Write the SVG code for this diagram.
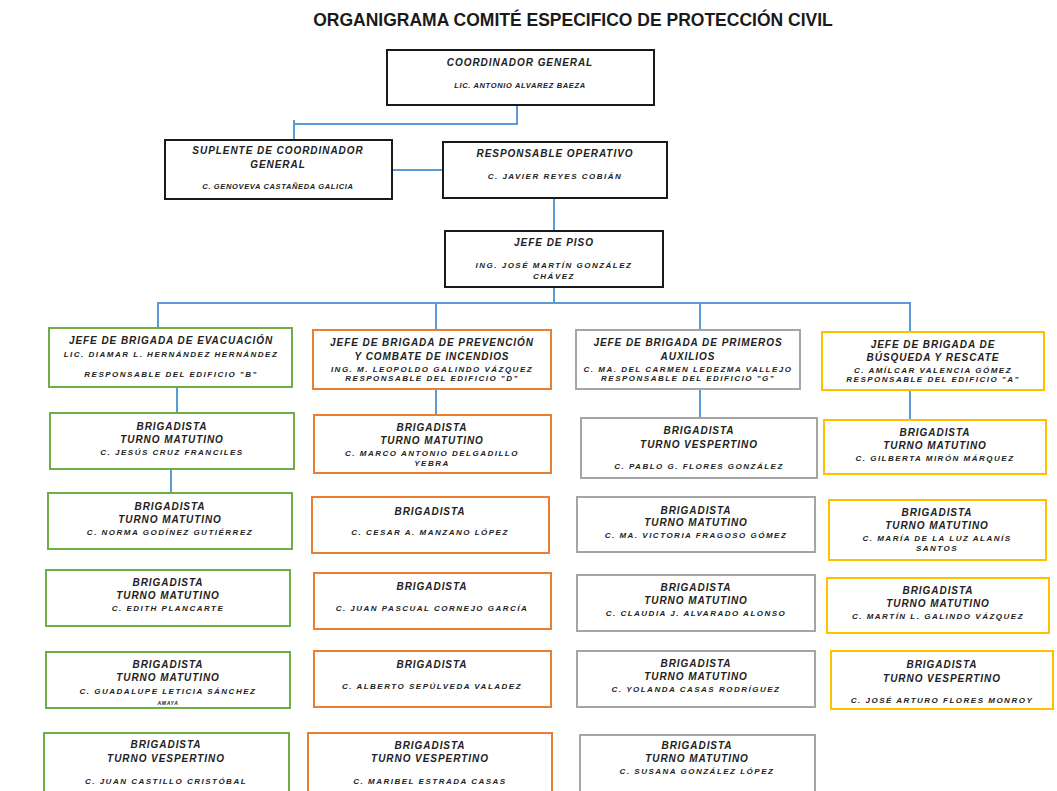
<svg xmlns="http://www.w3.org/2000/svg" width="1057" height="791" viewBox="0 0 1057 791">
<style>
.bg{fill:#ffffff}
.box{fill:#ffffff;stroke-width:2}
.k{stroke:#1a1a1a}
.g{stroke:#70AD47}
.o{stroke:#ED7D31}
.s{stroke:#A5A5A5}
.y{stroke:#FFC000}
text{font-family:"Liberation Sans",Arial,sans-serif;fill:#222;text-anchor:middle;font-weight:bold;font-style:italic}
.ttl{font-size:17.5px;font-style:normal;fill:#1a1a1a}
.t{font-size:10px;letter-spacing:0.95px}
.n{font-size:8px;letter-spacing:1.5px}
.ns{font-size:7.5px;letter-spacing:0.65px}
.conn line,.conn polyline{stroke:#5B9BD5;stroke-width:2;fill:none}
</style>
<rect class="bg" x="0" y="0" width="1057" height="791"/>
<text class="ttl" x="573" y="26">ORGANIGRAMA COMITÉ ESPECIFICO DE PROTECCIÓN CIVIL</text>

<g class="conn">
<polyline points="517,105 517,124 294,124"/>
<line x1="294" y1="120" x2="294" y2="140"/>
<line x1="392" y1="170" x2="443" y2="170"/>
<line x1="554" y1="198" x2="554" y2="231"/>
<line x1="554" y1="287" x2="554" y2="303"/>
<line x1="157" y1="303" x2="911" y2="303"/>
<line x1="158" y1="303" x2="158" y2="328"/>
<line x1="436" y1="303" x2="436" y2="330"/>
<line x1="700" y1="303" x2="700" y2="330"/>
<line x1="910" y1="303" x2="910" y2="332"/>
<line x1="177" y1="387" x2="177" y2="413"/>
<line x1="171" y1="469" x2="171" y2="493"/>
<line x1="436" y1="389" x2="436" y2="415"/>
<line x1="700" y1="389" x2="700" y2="418"/>
<line x1="910" y1="390" x2="910" y2="420"/>
</g>

<g id="coordinador">
<rect class="box k" x="387" y="50" width="267" height="55"/>
<text class="t" x="520" y="66">COORDINADOR GENERAL</text>
<text class="ns" x="520" y="88">LIC. ANTONIO ALVAREZ BAEZA</text>
</g>
<g id="suplente">
<rect class="box k" x="165" y="140" width="227" height="59"/>
<text class="t" x="278" y="154">SUPLENTE DE COORDINADOR</text>
<text class="t" x="278" y="168">GENERAL</text>
<text class="ns" x="278" y="189">C. GENOVEVA CASTAÑEDA GALICIA</text>
</g>
<g id="responsable">
<rect class="box k" x="443" y="142" width="224" height="56"/>
<text class="t" x="555" y="157">RESPONSABLE OPERATIVO</text>
<text class="n" x="555" y="179">C. JAVIER REYES COBIÁN</text>
</g>
<g id="jefepiso">
<rect class="box k" x="445" y="231" width="218" height="56"/>
<text class="t" x="554" y="246">JEFE DE PISO</text>
<text class="n" x="554" y="268">ING. JOSÉ MARTÍN GONZÁLEZ</text>
<text class="n" x="554" y="279">CHÁVEZ</text>
</g>

<g id="jefe-evacuacion">
<rect class="box g" x="49" y="328" width="243" height="59"/>
<text class="t" x="171" y="344">JEFE DE BRIGADA DE EVACUACIÓN</text>
<text class="n" x="171" y="357">LIC. DIAMAR L. HERNÁNDEZ HERNÁNDEZ</text>
<text class="n" x="171" y="377">RESPONSABLE DEL EDIFICIO "B"</text>
</g>
<g id="g1">
<rect class="box g" x="50" y="413" width="244" height="56"/>
<text class="t" x="172" y="430">BRIGADISTA</text>
<text class="t" x="172" y="443">TURNO MATUTINO</text>
<text class="n" x="172" y="455">C. JESÚS CRUZ FRANCILES</text>
</g>
<g id="g2">
<rect class="box g" x="48" y="493" width="244" height="56"/>
<text class="t" x="170" y="510">BRIGADISTA</text>
<text class="t" x="170" y="523">TURNO MATUTINO</text>
<text class="n" x="170" y="535">C. NORMA GODÍNEZ GUTIÉRREZ</text>
</g>
<g id="g3">
<rect class="box g" x="46" y="570" width="244" height="56"/>
<text class="t" x="168" y="586">BRIGADISTA</text>
<text class="t" x="168" y="599">TURNO MATUTINO</text>
<text class="n" x="168" y="611">C. EDITH PLANCARTE</text>
</g>
<g id="g4">
<rect class="box g" x="46" y="652" width="244" height="56"/>
<text class="t" x="168" y="668">BRIGADISTA</text>
<text class="t" x="168" y="681">TURNO MATUTINO</text>
<text class="n" x="168" y="694">C. GUADALUPE LETICIA SÁNCHEZ</text>
<text class="ns" x="168" y="705" style="font-size:5px">AMAYA</text>
</g>
<g id="g5">
<rect class="box g" x="44" y="733" width="245" height="64"/>
<text class="t" x="166" y="748">BRIGADISTA</text>
<text class="t" x="166" y="762">TURNO VESPERTINO</text>
<text class="n" x="166" y="784">C. JUAN CASTILLO CRISTÓBAL</text>
</g>

<g id="jefe-prevencion">
<rect class="box o" x="313" y="330" width="238" height="59"/>
<text class="t" x="432" y="346">JEFE DE BRIGADA DE PREVENCIÓN</text>
<text class="t" x="432" y="360">Y COMBATE DE INCENDIOS</text>
<text class="n" x="432" y="372">ING. M. LEOPOLDO GALINDO VÁZQUEZ</text>
<text class="n" x="432" y="381">RESPONSABLE DEL EDIFICIO "D"</text>
</g>
<g id="o1">
<rect class="box o" x="314" y="415" width="237" height="58"/>
<text class="t" x="432" y="431">BRIGADISTA</text>
<text class="t" x="432" y="444">TURNO MATUTINO</text>
<text class="n" x="432" y="456">C. MARCO ANTONIO DELGADILLO</text>
<text class="n" x="432" y="466">YEBRA</text>
</g>
<g id="o2">
<rect class="box o" x="312" y="497" width="237" height="56"/>
<text class="t" x="430" y="515">BRIGADISTA</text>
<text class="n" x="430" y="535">C. CESAR A. MANZANO LÓPEZ</text>
</g>
<g id="o3">
<rect class="box o" x="314" y="573" width="237" height="56"/>
<text class="t" x="432" y="590">BRIGADISTA</text>
<text class="n" x="432" y="611">C. JUAN PASCUAL CORNEJO GARCÍA</text>
</g>
<g id="o4">
<rect class="box o" x="314" y="651" width="237" height="56"/>
<text class="t" x="432" y="668">BRIGADISTA</text>
<text class="n" x="432" y="689">C. ALBERTO SEPÚLVEDA VALADEZ</text>
</g>
<g id="o5">
<rect class="box o" x="308" y="733" width="244" height="64"/>
<text class="t" x="430" y="749">BRIGADISTA</text>
<text class="t" x="430" y="762">TURNO VESPERTINO</text>
<text class="n" x="430" y="784">C. MARIBEL ESTRADA CASAS</text>
</g>

<g id="jefe-auxilios">
<rect class="box s" x="576" y="330" width="224" height="59"/>
<text class="t" x="688" y="346">JEFE DE BRIGADA DE PRIMEROS</text>
<text class="t" x="688" y="360">AUXILIOS</text>
<text class="n" x="688" y="372">C. MA. DEL CARMEN LEDEZMA VALLEJO</text>
<text class="n" x="688" y="381">RESPONSABLE DEL EDIFICIO "G"</text>
</g>
<g id="s1">
<rect class="box s" x="581" y="418" width="236" height="60"/>
<text class="t" x="699" y="434">BRIGADISTA</text>
<text class="t" x="699" y="448">TURNO VESPERTINO</text>
<text class="n" x="699" y="469">C. PABLO G. FLORES GONZÁLEZ</text>
</g>
<g id="s2">
<rect class="box s" x="577" y="497" width="238" height="55"/>
<text class="t" x="696" y="514">BRIGADISTA</text>
<text class="t" x="696" y="526">TURNO MATUTINO</text>
<text class="n" x="696" y="538">C. MA. VICTORIA FRAGOSO GÓMEZ</text>
</g>
<g id="s3">
<rect class="box s" x="577" y="575" width="238" height="56"/>
<text class="t" x="696" y="591">BRIGADISTA</text>
<text class="t" x="696" y="604">TURNO MATUTINO</text>
<text class="n" x="696" y="616">C. CLAUDIA J. ALVARADO ALONSO</text>
</g>
<g id="s4">
<rect class="box s" x="577" y="651" width="238" height="56"/>
<text class="t" x="696" y="667">BRIGADISTA</text>
<text class="t" x="696" y="680">TURNO MATUTINO</text>
<text class="n" x="696" y="692">C. YOLANDA CASAS RODRÍGUEZ</text>
</g>
<g id="s5">
<rect class="box s" x="580" y="735" width="235" height="62"/>
<text class="t" x="697" y="749">BRIGADISTA</text>
<text class="t" x="697" y="762">TURNO MATUTINO</text>
<text class="n" x="697" y="774">C. SUSANA GONZÁLEZ LÓPEZ</text>
</g>

<g id="jefe-busqueda">
<rect class="box y" x="822" y="332" width="222" height="58"/>
<text class="t" x="933" y="348">JEFE DE BRIGADA DE</text>
<text class="t" x="933" y="361">BÚSQUEDA Y RESCATE</text>
<text class="n" x="933" y="373">C. AMÍLCAR VALENCIA GÓMEZ</text>
<text class="n" x="933" y="382">RESPONSABLE DEL EDIFICIO "A"</text>
</g>
<g id="y1">
<rect class="box y" x="824" y="420" width="222" height="54"/>
<text class="t" x="935" y="436">BRIGADISTA</text>
<text class="t" x="935" y="449">TURNO MATUTINO</text>
<text class="n" x="935" y="461">C. GILBERTA MIRÓN MÁRQUEZ</text>
</g>
<g id="y2">
<rect class="box y" x="829" y="500" width="217" height="60"/>
<text class="t" x="937" y="516">BRIGADISTA</text>
<text class="t" x="937" y="529">TURNO MATUTINO</text>
<text class="n" x="937" y="541">C. MARÍA DE LA LUZ ALANÍS</text>
<text class="n" x="937" y="551">SANTOS</text>
</g>
<g id="y3">
<rect class="box y" x="827" y="578" width="222" height="55"/>
<text class="t" x="938" y="594">BRIGADISTA</text>
<text class="t" x="938" y="607">TURNO MATUTINO</text>
<text class="n" x="938" y="619">C. MARTÍN L. GALINDO VÁZQUEZ</text>
</g>
<g id="y4">
<rect class="box y" x="831" y="651" width="222" height="58"/>
<text class="t" x="942" y="668">BRIGADISTA</text>
<text class="t" x="942" y="682">TURNO VESPERTINO</text>
<text class="n" x="942" y="703">C. JOSÉ ARTURO FLORES MONROY</text>
</g>
</svg>
